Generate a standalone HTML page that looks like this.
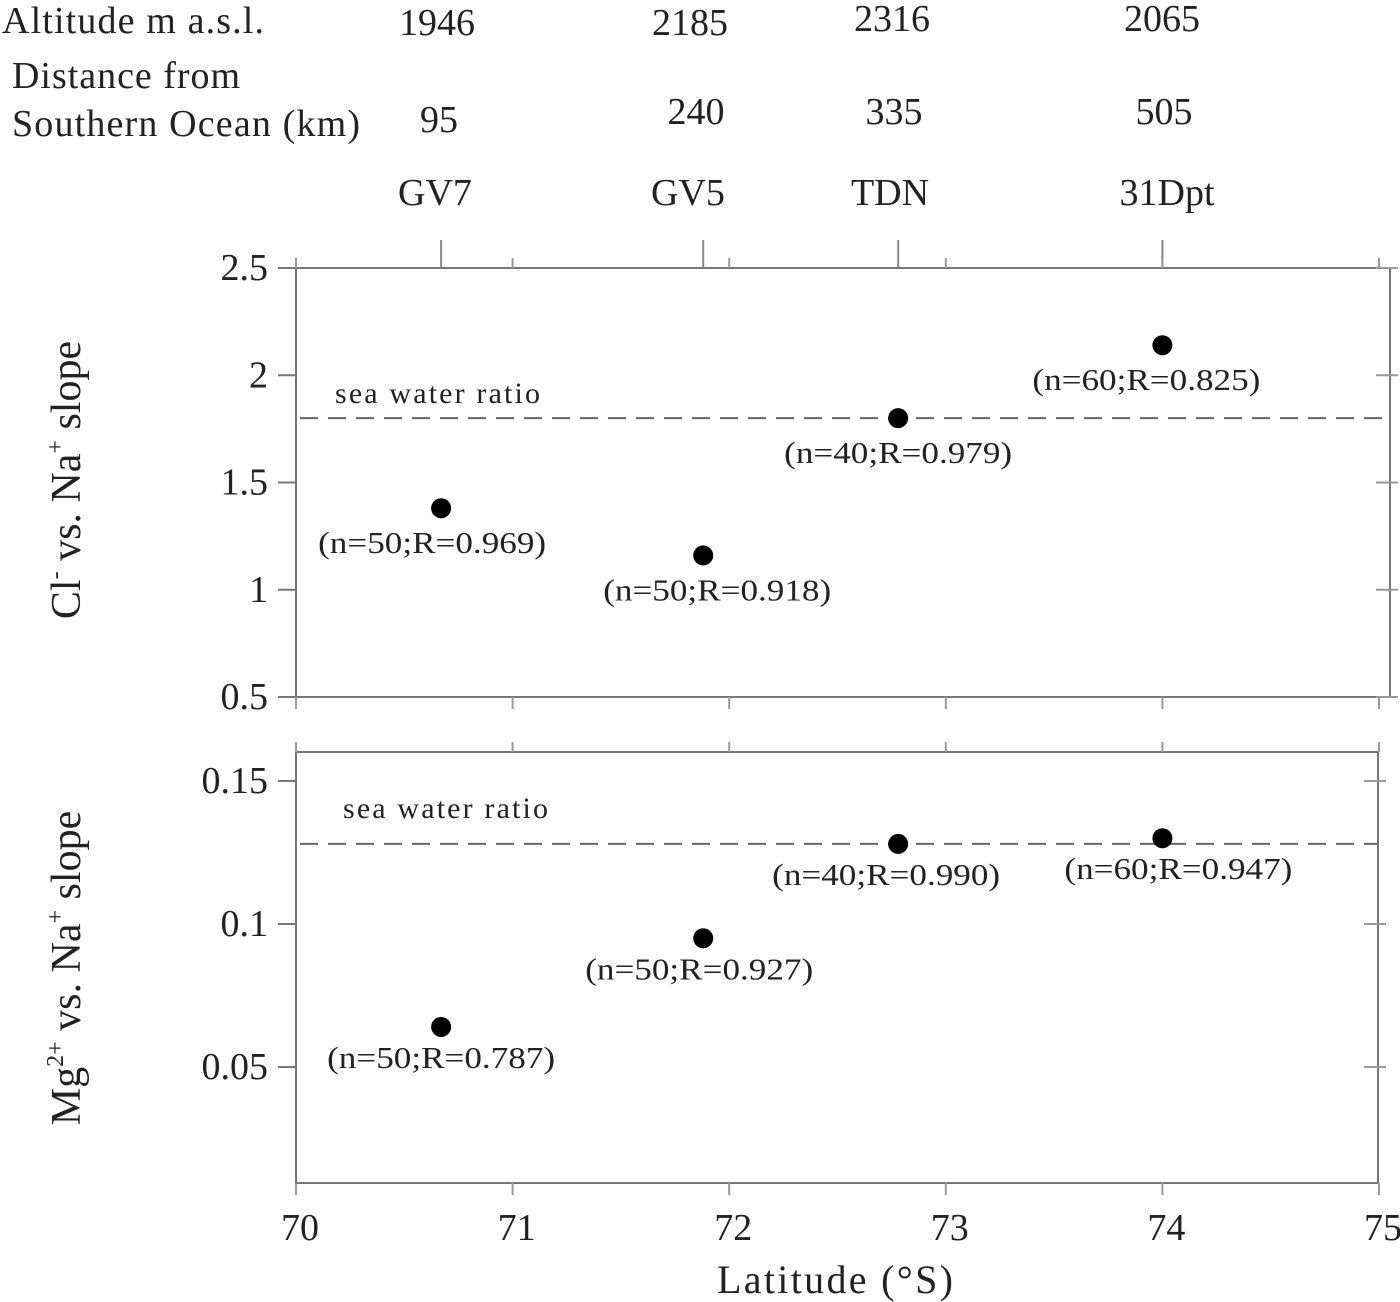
<!DOCTYPE html>
<html><head><meta charset="utf-8"><style>
html,body{margin:0;padding:0;background:#fff}
svg{display:block;font-family:"Liberation Serif",serif;fill:#222}
</style></head><body>
<svg id="chart" width="1400" height="1302" viewBox="0 0 1400 1302">
<g id="hdr" font-size="38">
<text x="2" y="33" textLength="262">Altitude m a.s.l.</text>
<text x="12" y="88" textLength="228">Distance from</text>
<text x="12" y="136" textLength="348">Southern Ocean (km)</text>
</g>
<g id="top"></g>
<g id="bot"></g>
<text x="835" y="1293" font-size="40" text-anchor="middle" textLength="236">Latitude (°S)</text>
<text transform="translate(80,480) rotate(-90)" font-size="42" text-anchor="middle">Cl<tspan font-size="24" dy="-17">-</tspan><tspan dy="17"> vs. Na</tspan><tspan font-size="24" dy="-17">+</tspan><tspan dy="17"> slope</tspan></text>
<text transform="translate(80,968) rotate(-90)" font-size="42" text-anchor="middle">Mg<tspan font-size="24" dy="-17">2+</tspan><tspan dy="17"> vs. Na</tspan><tspan font-size="24" dy="-17">+</tspan><tspan dy="17"> slope</tspan></text>
</svg>
<script>
const sites=["GV7","GV5","TDN","31Dpt"];
const altitudes=["1946","2185","2316","2065"];
const distances=["95","240","335","505"];
const latitudes=[70.67,71.88,72.78,74.0];
const clSlope=[1.38,1.16,1.8,2.14];
const clLabels=["(n=50;R=0.969)","(n=50;R=0.918)","(n=40;R=0.979)","(n=60;R=0.825)"];
const mgSlope=[0.064,0.095,0.128,0.130];
const mgLabels=["(n=50;R=0.787)","(n=50;R=0.927)","(n=40;R=0.990)","(n=60;R=0.947)"];
const clSea=1.8, mgSea=0.128;
const xTicks=[70,71,72,73,74,75];
const clTicks=[0.5,1,1.5,2,2.5];
const mgTicks=[0.05,0.1,0.15];
const clTickLabels=["0.5","1","1.5","2","2.5"];
const mgTickLabels=["0.05","0.1","0.15"];

const NS="http://www.w3.org/2000/svg";
function mk(p,t,a,txt){const e=document.createElementNS(NS,t);for(const k in a)e.setAttribute(k,a[k]);if(txt!=null)e.textContent=txt;p.appendChild(e);return e;}
const xs=v=>296+(v-70)*216.6;
const yTop=v=>697-(v-0.5)*214.5;
const yBot=v=>1067-(v-0.05)*2860;
const hdr=document.getElementById('hdr');
const hx=[437,690,892,1162];
sites.forEach((s,i)=>{
 let e=mk(hdr,'text',{x:hx[i],y:i>=2?31:35,'text-anchor':'middle'},altitudes[i]);
 
 
 e=mk(hdr,'text',{x:hx[i]+(i==1?6:2),y:i==0?132:124,'text-anchor':'middle'},distances[i]);
 
 
 e=mk(hdr,'text',{x:hx[i]+(i==3?5:-2),y:205,'text-anchor':'middle'},s);
 
 
 e=mk(hdr,'line',{x1:xs(latitudes[i]),x2:xs(latitudes[i]),y1:240,y2:268,stroke:'#888','stroke-width':2});
 
 
});
function panel(g,top,bottom,right,ys,ticks,tl,vals,labs,sea,seaLbl,dx,dy){
 let e=mk(g,'rect',{x:296,y:top,width:right-296,height:bottom-top,fill:'none',stroke:'#777','stroke-width':2});
 
 
 ticks.forEach((t,i)=>{
  e=mk(g,'line',{x1:278,x2:296,y1:ys(t),y2:ys(t),stroke:'#777','stroke-width':2});
  
  
  e=mk(g,'line',{x1:right-14,x2:right+8,y1:ys(t),y2:ys(t),stroke:'#999','stroke-width':2});
  
  
  e=mk(g,'text',{x:268,y:ys(t)+12,'text-anchor':'end','font-size':38},tl[i]);
  
  
 });
 xTicks.forEach(t=>{
  e=mk(g,'line',{x1:xs(t),x2:xs(t),y1:bottom,y2:bottom+12,stroke:'#999','stroke-width':2});
  
  
  e=mk(g,'line',{x1:xs(t),x2:xs(t),y1:top-10,y2:top,stroke:'#999','stroke-width':2});
  
  
 });
 e=mk(g,'line',{x1:300,x2:right,y1:ys(sea),y2:ys(sea),stroke:'#666','stroke-width':2,'stroke-dasharray':'18,10'});
 
 
 e=mk(g,'text',{x:seaLbl[0],y:seaLbl[1],'font-size':30,textLength:205},'sea water ratio');
 
 
 vals.forEach((v,i)=>{
  e=mk(g,'circle',{cx:xs(latitudes[i]),cy:ys(v),r:10,fill:'#000'});
  
  
  e=mk(g,'text',{x:xs(latitudes[i])+dx[i]-114,y:ys(v)+dy,'font-size':31,textLength:228,lengthAdjust:'spacingAndGlyphs'},labs[i]);
  
  
 });
}
panel(document.getElementById('top'),268,697,1390,yTop,clTicks,clTickLabels,clSlope,clLabels,clSea,[335,403],[-9,14,0,-16],45);
panel(document.getElementById('bot'),752,1183,1378,yBot,mgTicks,mgTickLabels,mgSlope,mgLabels,mgSea,[343,818],[0,-4,-12,16],41);
const bot=document.getElementById('bot');
xTicks.forEach(t=>{
 const e=mk(bot,'text',{x:xs(t)+4,y:1240,'text-anchor':'middle','font-size':38},String(t));
 
 
});
</script>
</body></html>
